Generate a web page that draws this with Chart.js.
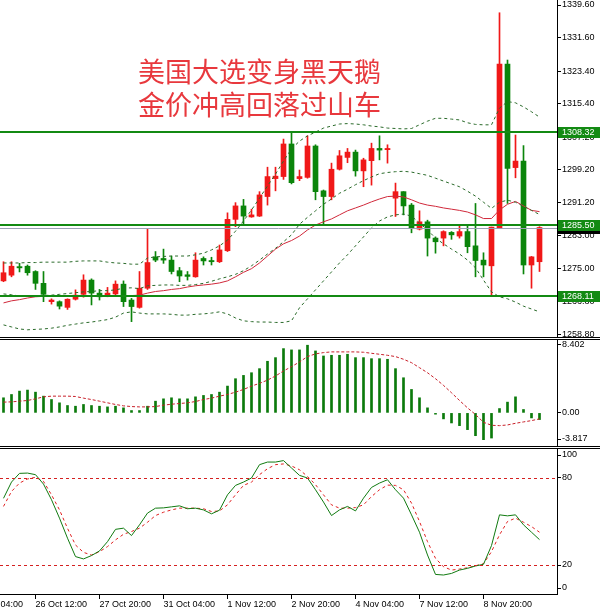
<!DOCTYPE html>
<html>
<head>
<meta charset="utf-8">
<script src="https://cdn.jsdelivr.net/npm/chart.js@4.4.1/dist/chart.umd.min.js"></script>
<style>
  html, body { margin: 0; padding: 0; background: #fff; }
  #wrap { position: relative; width: 600px; height: 612px; overflow: hidden; background: #fff; }
  canvas { position: absolute; left: 0; }
  .title { position: absolute; left: 138px; font-family: "Noto Sans CJK SC", sans-serif; font-size: 27px; line-height: 27px; color: #e8383d; white-space: nowrap; }
</style>
</head>
<body>
<div id="wrap">
  <canvas id="priceChart" width="600" height="338" style="top:0;width:600px;height:338px"></canvas>
  <canvas id="macdChart" width="600" height="108" style="top:339px;width:600px;height:108px"></canvas>
  <canvas id="stochChart" width="600" height="164" style="top:448px;width:600px;height:164px"></canvas>
  <div class="title" style="top:57px">美国大选变身黑天鹅</div>
  <div class="title" style="top:90px">金价冲高回落过山车</div>
</div>
<script>
// H4 gold candles, 68 bars
const opens = [1271.9, 1273.3, 1275.4, 1275.5, 1274.2, 1271.3, 1266.8, 1266.8, 1265.4, 1267.4,
  1268.6, 1272.1, 1268.9, 1268.2, 1268.7, 1271.1, 1267.2, 1265.4, 1270.1, 1277.8,
  1277.4, 1277.0, 1274.4, 1273.4, 1272.9, 1277.4, 1276.9, 1276.6, 1279.3, 1287.0,
  1290.3, 1287.6, 1287.8, 1292.6, 1297.0, 1297.5, 1305.5, 1297.0, 1297.3, 1305.0,
  1294.0, 1292.6, 1299.3, 1302.2, 1303.5, 1298.9, 1301.4, 1304.4, 1304.1, 1292.2,
  1293.8, 1290.5, 1284.6, 1286.4, 1282.4, 1282.4, 1283.8, 1282.9, 1284.0, 1280.5,
  1277.0, 1275.6, 1284.8, 1325.1, 1299.7, 1301.3, 1275.8, 1276.6];
const highs = [1276.6, 1276.6, 1276.2, 1275.8, 1274.4, 1274.2, 1267.5, 1267.0, 1267.5, 1269.7,
  1273.4, 1272.4, 1269.8, 1270.3, 1271.9, 1271.9, 1267.6, 1274.2, 1284.6, 1279.1,
  1279.7, 1278.0, 1275.2, 1274.2, 1278.8, 1277.8, 1277.7, 1280.7, 1288.6, 1291.1,
  1291.9, 1289.5, 1293.8, 1299.8, 1299.8, 1306.7, 1308.5, 1299.1, 1307.5, 1305.3,
  1294.2, 1300.8, 1303.9, 1304.4, 1304.0, 1302.0, 1305.7, 1307.5, 1305.3, 1295.9,
  1293.8, 1290.9, 1289.1, 1286.8, 1282.7, 1284.2, 1284.0, 1285.6, 1285.6, 1290.9,
  1278.8, 1285.1, 1337.7, 1326.1, 1307.7, 1305.1, 1277.9, 1285.2];
const lows = [1271.7, 1272.9, 1274.1, 1273.3, 1269.8, 1266.8, 1266.2, 1265.0, 1264.9, 1267.2,
  1267.9, 1266.0, 1267.2, 1268.0, 1268.4, 1265.6, 1261.9, 1265.2, 1269.8, 1276.6,
  1276.2, 1273.6, 1271.7, 1272.1, 1272.8, 1275.8, 1275.8, 1276.4, 1279.1, 1285.2,
  1285.9, 1287.5, 1287.7, 1290.5, 1294.0, 1296.8, 1295.7, 1296.5, 1297.1, 1291.8,
  1285.8, 1291.8, 1299.1, 1300.9, 1297.6, 1295.0, 1295.4, 1301.6, 1300.8, 1287.7,
  1288.1, 1283.7, 1284.4, 1278.0, 1278.7, 1280.5, 1282.1, 1282.4, 1278.8, 1272.9,
  1272.9, 1268.4, 1284.8, 1290.9, 1297.2, 1273.6, 1270.1, 1274.2];
const closes = [1273.9, 1275.5, 1275.1, 1273.9, 1271.3, 1268.6, 1267.2, 1265.7, 1267.4, 1268.4,
  1272.1, 1268.9, 1268.0, 1268.9, 1271.1, 1266.8, 1265.6, 1270.1, 1276.4, 1277.0,
  1277.0, 1274.2, 1273.1, 1273.0, 1277.0, 1276.8, 1276.6, 1279.5, 1287.0, 1290.3,
  1287.8, 1288.1, 1293.0, 1297.5, 1297.6, 1305.5, 1296.0, 1297.5, 1305.0, 1293.8,
  1292.6, 1299.3, 1302.6, 1303.5, 1298.9, 1301.6, 1304.4, 1304.0, 1304.4, 1293.8,
  1290.3, 1284.8, 1286.4, 1282.4, 1281.5, 1284.0, 1283.2, 1284.0, 1280.3, 1276.9,
  1275.8, 1285.1, 1325.1, 1299.5, 1301.3, 1275.8, 1277.8, 1285.0];

// Bollinger bands and moving average
const bbUpper = [1276.3, 1276.3, 1276.3, 1276.4, 1276.4, 1276.5, 1276.5, 1276.5, 1276.5, 1276.7,
  1276.8, 1276.8, 1276.8, 1276.5, 1276.3, 1276.2, 1276.0, 1276.0, 1277.5, 1277.8,
  1277.9, 1278.0, 1278.0, 1278.0, 1278.3, 1278.7, 1279.5, 1280.5, 1281.9, 1284.1,
  1286.6, 1289.3, 1292.2, 1295.2, 1298.1, 1301.3, 1304.3, 1306.2, 1307.5, 1308.4,
  1309.4, 1309.9, 1310.4, 1310.5, 1310.4, 1310.2, 1309.9, 1309.7, 1309.4, 1309.3,
  1309.2, 1309.3, 1310.2, 1311.1, 1311.8, 1311.8, 1311.6, 1311.4, 1310.7, 1310.3,
  1310.2, 1310.2, 1314.3, 1315.9, 1315.6, 1314.6, 1313.4, 1312.1];
const bbMiddle = [1268.7, 1268.5, 1268.2, 1268.2, 1268.2, 1268.3, 1268.4, 1268.6, 1268.8, 1269.0,
  1269.2, 1269.3, 1269.5, 1269.5, 1269.7, 1270.1, 1270.2, 1270.0, 1270.7, 1270.8,
  1270.9, 1270.9, 1270.8, 1270.8, 1271.0, 1271.3, 1271.8, 1272.4, 1272.9, 1273.5,
  1274.4, 1275.6, 1277.0, 1278.5, 1279.9, 1281.5, 1283.2, 1285.8, 1287.5, 1289.1,
  1290.7, 1292.0, 1293.4, 1294.4, 1295.5, 1296.5, 1297.4, 1298.2, 1298.5, 1298.7,
  1298.8, 1298.6, 1298.2, 1297.8, 1297.1, 1296.4, 1295.7, 1295.0, 1293.9, 1292.7,
  1291.2, 1289.7, 1291.2, 1291.7, 1291.2, 1290.2, 1289.2, 1288.2];
const bbLower = [1261.1, 1260.6, 1260.1, 1259.9, 1260.0, 1260.1, 1260.3, 1260.6, 1261.0, 1261.3,
  1261.6, 1261.8, 1262.1, 1262.4, 1263.0, 1264.0, 1264.3, 1264.0, 1263.8, 1263.8,
  1263.8, 1263.7, 1263.5, 1263.5, 1263.7, 1263.8, 1264.0, 1264.3, 1263.8, 1262.8,
  1262.1, 1261.9, 1261.8, 1261.8, 1261.7, 1261.7, 1262.1, 1265.3, 1267.5, 1269.7,
  1271.9, 1274.1, 1276.3, 1278.3, 1280.5, 1282.7, 1284.9, 1286.6, 1287.6, 1288.1,
  1288.3, 1287.8, 1286.1, 1284.4, 1282.4, 1281.0, 1279.7, 1278.5, 1277.0, 1275.1,
  1272.1, 1269.2, 1268.0, 1267.5, 1266.7, 1265.7, 1265.0, 1264.3];
const maLine = [1266.5, 1267.0, 1267.3, 1267.7, 1268.0, 1268.1, 1268.1, 1268.1, 1268.1, 1268.1,
  1268.1, 1268.1, 1268.1, 1268.1, 1268.2, 1268.2, 1268.3, 1268.4, 1268.9, 1269.3,
  1269.5, 1269.8, 1270.0, 1270.4, 1270.7, 1270.9, 1271.1, 1271.4, 1271.9, 1272.9,
  1274.0, 1274.9, 1276.3, 1278.0, 1279.7, 1281.0, 1281.8, 1282.9, 1284.4, 1285.6,
  1286.4, 1287.1, 1288.1, 1289.1, 1289.8, 1290.5, 1291.3, 1292.0, 1292.6, 1292.7,
  1292.5, 1291.8, 1291.0, 1290.5, 1290.2, 1289.8, 1289.5, 1289.2, 1288.8, 1288.1,
  1287.2, 1287.2, 1289.3, 1290.7, 1291.4, 1290.3, 1289.2, 1288.9];

// MACD
const macdHist = [1.74, 2.12, 2.51, 2.63, 2.39, 1.93, 1.54, 1.16, 0.85, 0.77,
  0.97, 0.85, 0.77, 0.69, 0.77, 0.58, 0.27, 0.27, 0.77, 1.35,
  1.62, 1.74, 1.62, 1.62, 1.85, 2.01, 2.12, 2.39, 3.09, 3.94,
  4.32, 4.63, 5.10, 5.95, 6.37, 7.41, 7.26, 7.26, 7.80, 7.14,
  6.56, 6.64, 6.64, 6.76, 6.37, 6.37, 6.25, 6.25, 6.18, 5.10,
  4.05, 2.70, 1.74, 0.58, -0.15, -0.69, -1.16, -1.47, -1.93, -2.63,
  -3.09, -2.90, 0.50, 1.24, 1.85, 0.39, -0.58, -0.77];
const macdSignal = [1.24, 1.27, 1.35, 1.43, 1.62, 1.85, 1.93, 1.93, 1.93, 1.89,
  1.70, 1.54, 1.35, 1.16, 0.97, 0.81, 0.73, 0.69, 0.69, 0.73,
  0.89, 1.00, 1.08, 1.16, 1.31, 1.54, 1.70, 1.93, 2.12, 2.39,
  2.70, 3.09, 3.40, 3.78, 4.25, 4.83, 5.33, 5.87, 6.49, 6.80,
  6.95, 7.03, 7.03, 7.03, 7.03, 6.99, 6.87, 6.76, 6.64, 6.49,
  6.18, 5.79, 5.21, 4.63, 3.94, 3.17, 2.32, 1.43, 0.58, -0.19,
  -1.08, -1.43, -1.47, -1.39, -1.20, -1.04, -0.89, -0.69];

// Stochastic
const stochK = [66.0, 77.2, 83.2, 83.4, 82.3, 75.8, 65.0, 52.3, 38.5, 25.8,
  24.2, 26.5, 29.7, 36.1, 44.6, 45.4, 40.3, 47.7, 55.8, 59.2,
  59.4, 60.1, 60.8, 58.8, 59.2, 58.0, 55.3, 57.8, 68.4, 74.9,
  77.2, 80.0, 89.2, 91.0, 91.0, 92.0, 86.9, 81.8, 80.0, 71.9,
  63.4, 54.1, 58.0, 60.4, 57.3, 66.1, 73.5, 76.5, 78.8, 71.9,
  66.1, 54.6, 42.6, 26.9, 13.5, 13.1, 14.2, 16.5, 17.7, 19.3,
  20.5, 33.4, 54.6, 53.9, 54.6, 47.7, 42.6, 37.5];
const stochD = [60.4, 70.7, 76.5, 79.3, 80.5, 77.7, 68.4, 58.0, 45.3, 33.8,
  28.7, 26.9, 29.2, 32.7, 37.3, 41.2, 43.1, 45.4, 49.5, 54.1,
  56.4, 58.0, 59.2, 59.2, 59.2, 58.8, 56.9, 57.3, 61.5, 68.4,
  74.9, 77.2, 82.3, 86.4, 89.2, 89.7, 88.3, 85.7, 81.1, 75.4,
  68.4, 61.5, 59.2, 59.2, 59.6, 61.5, 67.2, 71.9, 75.1, 74.9,
  71.9, 62.7, 50.0, 36.1, 24.6, 18.8, 16.5, 17.2, 18.1, 19.5,
  20.9, 29.2, 40.8, 50.0, 52.3, 49.5, 46.5, 42.6];

// levels and ticks
const priceLevels = [1308.32, 1285.50, 1268.11];
const priceTicks = [1339.60, 1331.60, 1323.40, 1315.40, 1307.20, 1299.20, 1291.20, 1283.00, 1275.00, 1266.80, 1258.80];
const macdTicks = [8.402, 0, -3.817];
const macdTickText = ['8.402', '0.00', '-3.817'];
const stochTicks = [100, 80, 20, 0];
const stochLevels = [80, 20];
const timeTickIdx = [-4, 4, 12, 20, 28, 36, 44, 52, 60];
const timeTickText = ['25 Oct 04:00', '26 Oct 12:00', '27 Oct 20:00', '31 Oct 04:00', '1 Nov 12:00',
  '2 Nov 20:00', '4 Nov 04:00', '7 Nov 12:00', '8 Nov 20:00'];

const X_MIN = -0.4375, X_MAX = 69.1875; // 8px per bar
const RED = '#f01818', GREEN = '#0b850b', LEVEL = '#138a13';
const FONT = { family: '"Liberation Sans", Arial, sans-serif', size: 9 };
const idx = opens.map((_, i) => i);
const candleColor = idx.map(i => closes[i] >= opens[i] ? RED : GREEN);
const pts = arr => arr.map((v, i) => ({ x: i, y: v }));

function xScale(show) {
  return {
    type: 'linear', min: X_MIN, max: X_MAX, offset: false, display: show,
    afterBuildTicks: s => { s.ticks = timeTickIdx.map(v => ({ value: v })); },
    afterFit: s => { s.height = show ? 18 : 0; s.paddingLeft = 0; s.paddingRight = 0; },
    grid: { drawOnChartArea: false, drawTicks: true, tickLength: 5, color: '#000' },
    border: { display: true, color: '#000' },
    ticks: { align: 'start', maxRotation: 0, autoSkip: false, padding: 0, color: '#000', font: FONT,
      callback: (v, i) => timeTickText[i] }
  };
}

function yScale(min, max, tickVals, label, inset) {
  return {
    position: 'right', min: min, max: max,
    afterBuildTicks: s => {
      // MT4 keeps the edge labels inside the window
      const unit = (max - min) / inset.h;
      s.ticks = tickVals.map(v => ({ value: v === max ? v - inset.top * unit : v === min ? v + inset.bottom * unit : v }));
    },
    afterFit: s => { s.width = 43; s.paddingTop = 0; s.paddingBottom = 0; },
    grid: { drawOnChartArea: false, drawTicks: true, tickLength: 4, color: '#000' },
    border: { display: true, color: '#000' },
    ticks: { padding: 1, color: '#000', font: FONT, autoSkip: false, callback: (v, i) => label(i) }
  };
}

function panel(cfg) {
  return {
    id: 'panel_' + cfg.name,
    afterDatasetsDraw(chart) {
      const { ctx, chartArea: a, scales: { y } } = chart;
      ctx.save();
      (cfg.levels || []).forEach(l => {
        let py = Math.round(y.getPixelForValue(l.value));
        if (l.width % 2) py += 0.5;
        ctx.strokeStyle = l.color; ctx.lineWidth = l.width; ctx.setLineDash(l.dash || []);
        ctx.beginPath(); ctx.moveTo(a.left, py); ctx.lineTo(a.right, py); ctx.stroke();
      });
      ctx.restore();
    },
    afterDraw(chart) {
      const { ctx, chartArea: a, scales: { y }, width } = chart;
      ctx.save();
      (cfg.tags || []).forEach(t => {
        const py = Math.round(y.getPixelForValue(t.value));
        ctx.fillStyle = t.bg;
        ctx.fillRect(a.right + 1, py - 5, width - a.right - 1, 11);
        ctx.fillStyle = '#fff';
        ctx.font = FONT.size + 'px ' + FONT.family;
        ctx.textBaseline = 'middle';
        ctx.fillText(t.value.toFixed(2), a.right + 5, py + 0.5);
      });
      ctx.strokeStyle = '#000'; ctx.lineWidth = 1; ctx.setLineDash([]);
      (cfg.frames || []).forEach(f => {
        ctx.beginPath(); ctx.moveTo(0, f + 0.5); ctx.lineTo(width, f + 0.5); ctx.stroke();
      });
      ctx.restore();
    }
  };
}

const common = {
  animation: false, responsive: false, maintainAspectRatio: false, devicePixelRatio: 1, events: [],
  plugins: { legend: { display: false }, tooltip: { enabled: false } }
};

const bandStyle = { type: 'line', borderColor: '#2a6a2a', borderWidth: 1, borderDash: [3, 3], pointRadius: 0, tension: 0, order: 0 };

// price panel
new Chart(document.getElementById('priceChart'), {
  type: 'bar',
  data: {
    datasets: [
      Object.assign({ data: pts(bbUpper) }, bandStyle),
      Object.assign({ data: pts(bbMiddle) }, bandStyle),
      Object.assign({ data: pts(bbLower) }, bandStyle),
      { type: 'line', data: pts(maLine), borderColor: '#d0283a', borderWidth: 1, pointRadius: 0, tension: 0, order: 0 },
      { data: idx.map(i => ({ x: i, y: [opens[i], closes[i]] })), backgroundColor: candleColor,
        barThickness: 5, minBarLength: 1, grouped: false, borderWidth: 0, order: 1 },
      { data: idx.map(i => ({ x: i, y: [lows[i], highs[i]] })), backgroundColor: candleColor,
        barThickness: 1, grouped: false, borderWidth: 0, order: 2 }
    ]
  },
  options: Object.assign({}, common, {
    layout: { padding: { bottom: 1 } },
    scales: {
      x: xScale(false),
      y: yScale(1258.13, 1340.83, priceTicks, i => priceTicks[i].toFixed(2), { h: 337, top: 0, bottom: 0 })
    }
  }),
  plugins: [panel({
    name: 'price',
    levels: [{ value: closes[closes.length - 1], color: '#9aa0b4', width: 1 }]
      .concat(priceLevels.map(v => ({ value: v, color: LEVEL, width: 2 }))),
    tags: [{ value: closes[closes.length - 1], bg: '#000' }]
      .concat(priceLevels.map(v => ({ value: v, bg: LEVEL }))),
    frames: [337]
  })]
});

// MACD panel
new Chart(document.getElementById('macdChart'), {
  type: 'bar',
  data: {
    datasets: [
      { type: 'line', data: pts(macdSignal), borderColor: '#c8202a', borderWidth: 1, borderDash: [3, 2],
        pointRadius: 0, tension: 0, order: 0 },
      { data: pts(macdHist), backgroundColor: '#0b7a0b', barThickness: 2, grouped: false, borderWidth: 0, order: 1 }
    ]
  },
  options: Object.assign({}, common, {
    layout: { padding: { top: 1, bottom: 1 } },
    scales: {
      x: xScale(false),
      y: yScale(-3.817, 8.402, macdTicks, i => macdTickText[i], { h: 106, top: 5, bottom: 7 })
    }
  }),
  plugins: [panel({ name: 'macd', frames: [0, 107] })]
});

// Stochastic panel
new Chart(document.getElementById('stochChart'), {
  type: 'line',
  data: {
    datasets: [
      { data: pts(stochK), borderColor: '#107a10', borderWidth: 1, pointRadius: 0, tension: 0 },
      { data: pts(stochD), borderColor: '#e02020', borderWidth: 1, borderDash: [3, 3], pointRadius: 0, tension: 0 }
    ]
  },
  options: Object.assign({}, common, {
    layout: { padding: { top: 1 } },
    scales: {
      x: xScale(true),
      y: yScale(0, 100, stochTicks, i => String(stochTicks[i]), { h: 145, top: 6, bottom: 6 })
    }
  }),
  plugins: [panel({
    name: 'stoch',
    levels: stochLevels.map(v => ({ value: v, color: '#d42020', width: 1, dash: [3, 3] })),
    frames: [0]
  })]
});
</script>
</body>
</html>
